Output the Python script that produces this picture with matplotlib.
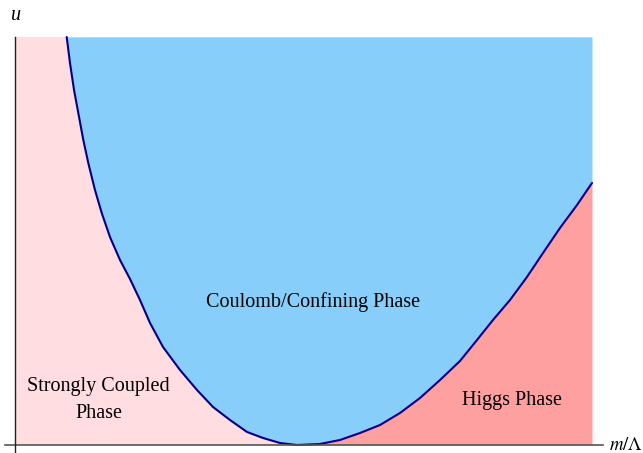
import matplotlib
matplotlib.use("Agg")
import matplotlib.pyplot as plt
import numpy as np

# phase boundary (m/Lambda scaled 0..1, u scaled 0..1)
m_vals = [0.0896, 0.0953, 0.1023, 0.1097, 0.1184, 0.1270, 0.1386, 0.1503,
          0.1646, 0.1820, 0.1993, 0.2166, 0.2340, 0.2565, 0.2860, 0.3154,
          0.3432, 0.3726, 0.4021, 0.4298, 0.4593, 0.4887, 0.5286, 0.5633,
          0.5979, 0.6326, 0.6672, 0.7019, 0.7366, 0.7712, 0.8007, 0.8284,
          0.8579, 0.8873, 0.9151, 0.9445, 0.9740, 1.0]
u_vals = [1.0000, 0.9363, 0.8701, 0.8137, 0.7475, 0.6912, 0.6250, 0.5686,
          0.5098, 0.4534, 0.4069, 0.3554, 0.2990, 0.2402, 0.1838, 0.1348,
          0.0931, 0.0613, 0.0319, 0.0172, 0.0049, 0.0000, 0.0025, 0.0123,
          0.0294, 0.0490, 0.0784, 0.1152, 0.1593, 0.2059, 0.2574, 0.3064,
          0.3554, 0.4118, 0.4706, 0.5319, 0.5882, 0.6422]

phase_labels = ["Coulomb/Confining Phase", "Strongly Coupled\nPhase", "Higgs Phase"]
label_pos = [(0.516, 0.350), (0.145, 0.110), (0.861, 0.108)]

plt.rcParams['font.family'] = ['Liberation Serif', 'DejaVu Serif']

m = np.array(m_vals)
u = np.array(u_vals)
i_min = int(np.argmin(u))

fig = plt.figure(figsize=(6.43, 4.53), dpi=100)
ax = fig.add_axes([0, 0, 1, 1])
ax.set_xlim(-15 / 577, 628 / 577)
ax.set_ylim(-8 / 408, 445 / 408)
ax.axis('off')

# background: strongly coupled region
ax.fill_between([0, 1], 0, 1, color='#FFDDE0', lw=0)
# coulomb / confining region above the curve
ax.fill_between(m, u, 1, color='#87CEFA', lw=0)
# higgs region below the right branch
ax.fill_between(m[i_min:], 0, u[i_min:], color='#FFA0A0', lw=0)

ax.plot(m, u, color='#00008B', lw=1.5, solid_capstyle='round',
        solid_joinstyle='round')

# axes lines
ax.plot([-10 / 577, 588 / 577], [0, 0], color='#555555', lw=1.2)
ax.plot([0, 0], [-7 / 408, 1.0], color='#222222', lw=1.0)

ax.text(-4 / 577, 1.053, 'u', fontsize=14.5, style='italic', ha='left', va='center')
ax.text(594 / 577, 0.0, r'$m/\Lambda$', fontsize=13.5, ha='left', va='center',
        math_fontfamily='stix')

for txt, (x, y) in zip(phase_labels, label_pos):
    ax.text(x, y, txt, fontsize=14.5, ha='center', va='center', linespacing=1.6)

fig.savefig('out.png', dpi=100)
